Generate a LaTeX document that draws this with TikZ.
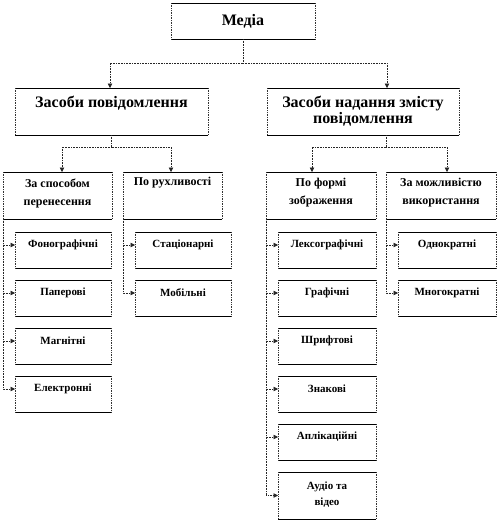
\documentclass[tikz,border=0pt]{standalone}
\usepackage{fontspec}
\setmainfont{Liberation Serif}
\usetikzlibrary{arrows.meta}
\tikzset{
  bx/.style={draw=none, inner sep=0pt, outer sep=0pt, anchor=north west},
  lbl/.style={anchor=center, align=center, inner sep=0pt, font=\bfseries},
  solidedge/.style={draw=black, line width=0.7pt},
  dotedge/.style={draw=black!80, line width=0.7pt, densely dotted},
  conn/.style={draw=black!85, line width=0.6pt, densely dotted},
  arr/.style={conn, -{Triangle[length=4.5pt,width=4.5pt]}},
  fA/.style={font=\bfseries\fontsize{16}{16}\selectfont},
  fB/.style={font=\bfseries\fontsize{12}{18}\selectfont},
  fC/.style={font=\bfseries\fontsize{11}{16}\selectfont},
}
\newcommand\mybox[8]{%
  \node[bx, minimum width={#4pt-#2pt}, minimum height={#5pt-#3pt},
        label={[lbl,#6,yshift=-#7pt]north:#8}] (#1) at (#2,#3) {};}
\begin{document}
\begin{tikzpicture}[x=1pt,y=-1pt]
\useasboundingbox (0,0) rectangle (498,522);
% level 0
\mybox{media}{171}{3}{315}{39}{fA}{18}{Медіа}
% level 1
\mybox{zp}{15}{88}{208}{135}{fA}{15}{Засоби повідомлення}
\mybox{zn}{267}{88}{459}{135}{fA}{23}{Засоби надання змісту\\повідомлення}
% level 2
\mybox{zs}{3}{172}{112}{219}{fB}{21}{За способом\\перенесення}
\mybox{pr}{123}{172}{222}{219}{fB}{11}{По рухливості}
\mybox{pf}{266}{172}{376}{219}{fB}{21}{По формі\\зображення}
\mybox{zm}{386}{172}{496}{219}{fB}{21}{За можливістю\\використання}
% leaves
\mybox{fon}{15}{232}{111}{268}{fC}{13}{Фонографічні}
\mybox{pap}{15}{280}{111}{316}{fC}{13}{Паперові}
\mybox{mag}{15}{328}{111}{364}{fC}{13}{Магнітні}
\mybox{el}{15}{376}{111}{412}{fC}{13}{Електронні}
\mybox{st}{135}{232}{231}{268}{fC}{13}{Стаціонарні}
\mybox{mob}{135}{280}{231}{316}{fC}{13}{Мобільні}
\mybox{lex}{278}{232}{376}{268}{fC}{13}{Лексографічні}
\mybox{gr}{278}{280}{376}{316}{fC}{13}{Графічні}
\mybox{shr}{278}{328}{376}{364}{fC}{13}{Шрифтові}
\mybox{znk}{278}{376}{376}{412}{fC}{13}{Знакові}
\mybox{ap}{278}{424}{376}{460}{fC}{13}{Аплікаційні}
\mybox{av}{278}{472}{376}{519}{fC}{22.5}{Аудіо та\\відео}
\mybox{od}{398}{232}{496}{268}{fC}{13}{Однократні}
\mybox{mn}{398}{280}{496}{316}{fC}{13}{Многократні}
% box outlines: solid top/bottom, dotted sides
\foreach \n in {media,zp,zn,zs,pr,pf,zm,fon,pap,mag,el,st,mob,lex,gr,shr,znk,ap,av,od,mn}{
  \path[solidedge] (\n.north west) -- (\n.north east) (\n.south west) -- (\n.south east);
  \path[dotedge] (\n.north west) -- (\n.south west) (\n.north east) -- (\n.south east);
}
% connectors level 0 -> 1
\coordinate (j0) at (243,63);
\draw[conn] (media.south) -- (j0);
\draw[arr] (j0) -| ([xshift=-1.5pt]zp.north);
\draw[arr] (j0) -| ([xshift=24pt]zn.north);
% level 1 -> 2
\coordinate (j1) at (111.5,147);
\draw[conn] (zp.south) -- (j1);
\draw[arr] (j1) -| ([xshift=4.5pt]zs.north);
\draw[arr] (j1) -| ([xshift=-1.5pt]pr.north);
\coordinate (j2) at (386,147);
\draw[conn] ([xshift=23pt]zn.south) -- (j2);
\draw[arr] (j2) -| ([xshift=-9pt]pf.north);
\draw[arr] (j2) -| ([xshift=6pt]zm.north);
% leaves
\foreach \c in {fon,pap,mag,el}{\draw[arr] (zs.south west) |- ([yshift=-13pt]\c.north west);}
\foreach \c in {st,mob}{\draw[arr] (pr.south west) |- ([yshift=-13pt]\c.north west);}
\foreach \c in {lex,gr,shr,znk,ap}{\draw[arr] (pf.south west) |- ([yshift=-13pt]\c.north west);}
\draw[arr] (pf.south west) |- (av.west);
\foreach \c in {od,mn}{\draw[arr] (zm.south west) |- ([yshift=-13pt]\c.north west);}
\end{tikzpicture}
\end{document}
